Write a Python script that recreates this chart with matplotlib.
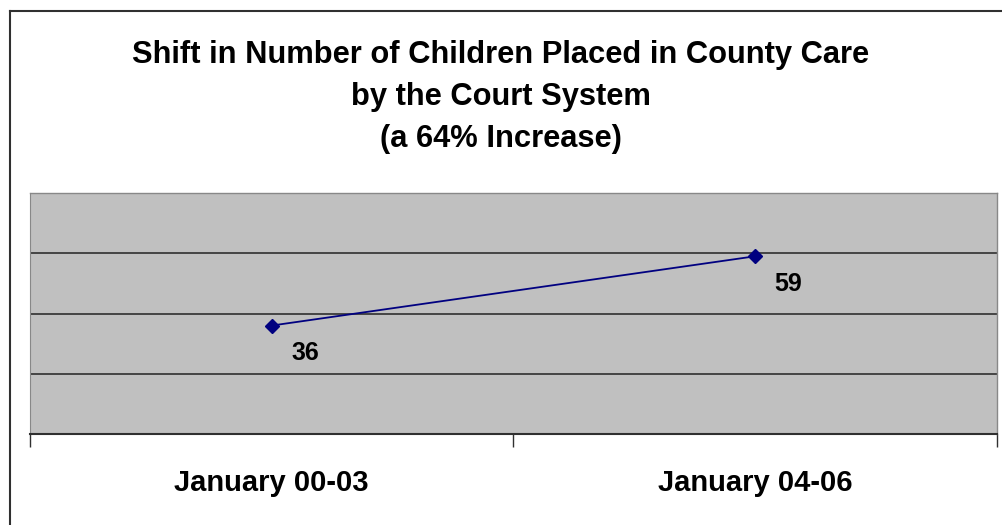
import matplotlib
matplotlib.use("Agg")
import matplotlib.pyplot as plt
from matplotlib.lines import Line2D

categories = ["January 00-03", "January 04-06"]
values = [36, 59]
title = "Shift in Number of Children Placed in County Care\nby the Court System\n(a 64% Increase)"

plt.rcParams['font.family'] = ['Liberation Sans', 'DejaVu Sans']

W, H = 1003, 525
fig = plt.figure(figsize=(W / 100, H / 100), dpi=100)
fig.patch.set_facecolor('white')

# outer chart frame (left and top edges visible)
fig.add_artist(Line2D([10 / W, 10 / W], [0, 1 - 11 / H], transform=fig.transFigure, color='#303030', lw=1.5))
fig.add_artist(Line2D([10 / W, 1], [1 - 11 / H, 1 - 11 / H], transform=fig.transFigure, color='#303030', lw=1.5))

left, right, top, bottom = 30, 997, 193, 434
ax = fig.add_axes([left / W, 1 - bottom / H, (right - left) / W, (bottom - top) / H])
ax.set_facecolor('#C0C0C0')

x = [i + 0.5 for i in range(len(categories))]
ax.set_xlim(0, len(categories))
ax.set_ylim(0, 80)
ax.set_yticks([0, 20, 40, 60, 80])
ax.yaxis.grid(True, color='#3a3a3a', lw=1.3)
ax.set_axisbelow(True)
ax.tick_params(axis='y', length=0, labelleft=False)

ax.set_xticks(range(len(categories) + 1))
ax.set_xticklabels([])
ax.tick_params(axis='x', which='major', length=9, width=1, color='#303030', direction='out')
ax.set_xticks(x, minor=True)
ax.set_xticklabels(categories, minor=True, fontsize=21, fontweight='bold')
ax.tick_params(axis='x', which='minor', length=0, pad=25)

for s in ['top', 'right']:
    ax.spines[s].set_color('#888888')
    ax.spines[s].set_linewidth(1)
ax.spines['left'].set_color('#888888')
ax.spines['bottom'].set_color('#303030')
ax.spines['bottom'].set_linewidth(1.5)

ax.plot(x, values, color='#000080', lw=1.3, marker='D', markersize=7, zorder=3)
for xi, v in zip(x, values):
    ax.annotate(str(v), (xi, v), xytext=(24, -20), textcoords='offset points',
                ha='center', va='center', fontsize=18, fontweight='bold', color='black')

fig.text(501 / W, 1 - 97 / H, title, ha='center', va='center', fontsize=22.2,
         fontweight='bold', linespacing=1.52)

fig.savefig('out.png', dpi=100, facecolor='white')
